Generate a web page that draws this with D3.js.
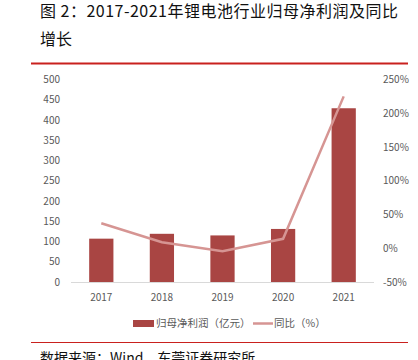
<!DOCTYPE html>
<html>
<head>
<meta charset="utf-8">
<script src="https://cdn.jsdelivr.net/npm/d3@7"></script>
<style>
  body { margin: 0; background: #fff; }
  svg { display: block; }
</style>
</head>
<body>
<div id="chart"></div>
<script>
// data
var years = ["2017", "2018", "2019", "2020", "2021"];
var profit = [107, 119, 115, 131, 429];          // 归母净利润（亿元）
var growth = [37, 9, -4.5, 14, 225];             // 同比（%）
var leftTicks = [0, 50, 100, 150, 200, 250, 300, 350, 400, 450, 500];
var rightTicks = [-50, 0, 50, 100, 150, 200, 250];

var width = 418, height = 360;
var barColor = "#a94543", lineColor = "#d69593", red = "#c9211e";
var font = "'Noto Sans CJK SC', 'Noto Sans', sans-serif";

var svg = d3.select("#chart")
    .append("svg")
    .attr("width", width)
    .attr("height", height);

// title
svg.append("text")
    .attr("x", 40).attr("y", 17)
    .attr("textLength", 358).attr("lengthAdjust", "spacing")
    .attr("font-family", font).attr("font-size", "16px").attr("fill", "#111")
    .text("图 2：2017-2021年锂电池行业归母净利润及同比");
svg.append("text")
    .attr("x", 40).attr("y", 45)
    .attr("font-family", font).attr("font-size", "16px").attr("fill", "#111")
    .text("增长");

// red rules
svg.append("line")
    .attr("x1", 31).attr("x2", 408).attr("y1", 63.5).attr("y2", 63.5)
    .style("stroke", red).style("stroke-width", 2);
svg.append("line")
    .attr("x1", 31).attr("x2", 408).attr("y1", 342.5).attr("y2", 342.5)
    .style("stroke", red).style("stroke-width", 1);

// scales
var x = d3.scaleBand().domain(years).range([71, 374]).paddingInner(0.6).paddingOuter(0.3);
var yL = d3.scaleLinear().domain([0, 500]).range([282, 79.5]);
var yR = d3.scaleLinear().domain([-50, 250]).range([282, 79.5]);

// left axis labels
svg.append("g")
    .selectAll("text")
    .data(leftTicks)
    .enter()
    .append("text")
    .attr("x", 60)
    .attr("y", function(d){ return yL(d) + 3.5; })
    .attr("text-anchor", "end")
    .attr("font-family", font).attr("font-size", "10px").attr("fill", "#595959")
    .text(function(d){ return d; });

// right axis labels
svg.append("g")
    .selectAll("text")
    .data(rightTicks)
    .enter()
    .append("text")
    .attr("x", 383)
    .attr("y", function(d){ return yR(d) + 3.5; })
    .attr("text-anchor", "start")
    .attr("font-family", font).attr("font-size", "10px").attr("fill", "#595959")
    .text(function(d){ return d + "%"; });

// bars
svg.append("g")
    .selectAll("rect")
    .data(profit)
    .enter()
    .append("rect")
    .attr("x", function(d, i){ return x(years[i]); })
    .attr("y", function(d){ return yL(d); })
    .attr("width", x.bandwidth())
    .attr("height", function(d){ return yL(0) - yL(d); })
    .style("fill", barColor);

// baseline
svg.append("line")
    .attr("x1", 71).attr("x2", 374).attr("y1", 282.5).attr("y2", 282.5)
    .style("stroke", "#d9d9d9").style("stroke-width", 1);

// x labels
svg.append("g")
    .selectAll("text")
    .data(years)
    .enter()
    .append("text")
    .attr("x", function(d){ return x(d) + x.bandwidth() / 2; })
    .attr("y", 301)
    .attr("text-anchor", "middle")
    .attr("font-family", font).attr("font-size", "10px").attr("fill", "#595959")
    .text(function(d){ return d; });

// growth line
var line = d3.line()
    .x(function(d, i){ return x(years[i]) + x.bandwidth() / 2; })
    .y(function(d){ return yR(d); });
svg.append("path")
    .datum(growth)
    .attr("d", line)
    .style("fill", "none")
    .style("stroke", lineColor)
    .style("stroke-width", 2.5);

// legend
var lg = svg.append("g");
lg.append("rect")
    .attr("x", 133).attr("y", 320).attr("width", 21).attr("height", 7)
    .style("fill", barColor);
lg.append("text")
    .attr("x", 156).attr("y", 327)
    .attr("font-family", font).attr("font-size", "10.5px").attr("fill", "#595959")
    .text("归母净利润（亿元）");
lg.append("line")
    .attr("x1", 253).attr("x2", 273).attr("y1", 323.5).attr("y2", 323.5)
    .style("stroke", lineColor).style("stroke-width", 2.5);
lg.append("text")
    .attr("x", 274).attr("y", 327)
    .attr("font-family", font).attr("font-size", "10.5px").attr("fill", "#595959")
    .text("同比（%）");

// footer
svg.append("text")
    .attr("x", 40).attr("y", 363)
    .attr("font-family", font).attr("font-size", "14px").attr("fill", "#111")
    .text("数据来源：Wind，东莞证券研究所");
</script>
</body>
</html>
